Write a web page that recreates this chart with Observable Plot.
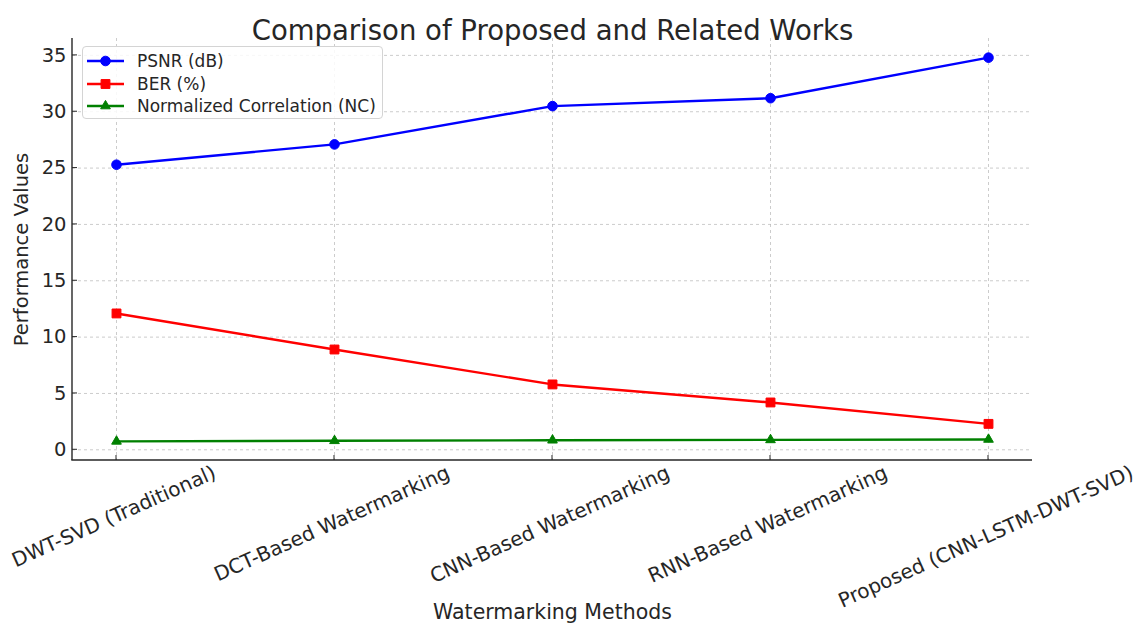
<!DOCTYPE html>
<html><head><meta charset="utf-8">
<script src="https://cdn.jsdelivr.net/npm/d3@7"></script>
<script src="https://cdn.jsdelivr.net/npm/@observablehq/plot@0.6"></script>
<style>
body{margin:0;background:#fff;font-family:"DejaVu Sans",sans-serif;}
#wrap{position:relative;width:1146px;height:633px;}
#legend{position:absolute;left:82px;top:46px;width:301px;height:73px;border:1px solid #d4d4d4;border-radius:4px;background:rgba(255,255,255,0.85);box-sizing:border-box;}
.row{position:absolute;left:0;height:22px;display:flex;align-items:center;font-size:17px;color:#262626;white-space:nowrap;}
</style></head><body><div id="wrap"><div id="legend"></div></div>
<script>
const methods = ["DWT-SVD (Traditional)", "DCT-Based Watermarking", "CNN-Based Watermarking", "RNN-Based Watermarking", "Proposed (CNN-LSTM-DWT-SVD)"];
const psnr = [25.3, 27.1, 30.5, 31.2, 34.8];
const ber = [12.1, 8.9, 5.8, 4.2, 2.3];
const nc = [0.75, 0.80, 0.85, 0.88, 0.92];
const seriesNames = ["PSNR (dB)", "BER (%)", "Normalized Correlation (NC)"];
const seriesColors = ["#0000ff", "#ff0000", "#008000"];
const seriesSymbols = ["circle", "square", "triangle"];
const seriesR = [4.8, 5, 3.6];
const yTicks = [0, 5, 10, 15, 20, 25, 30, 35];
const titleText = "Comparison of Proposed and Related Works";
const xLabel = "Watermarking Methods";
const yLabel = "Performance Values";

const seriesValues = [psnr, ber, nc];
const tables = seriesValues.map(vals => methods.map((m, i) => ({method: m, value: vals[i]})));

const ink = "#262626";
const gridStyle = {stroke: "#b8b8b8", strokeOpacity: 0.8, strokeDasharray: "3,3", strokeWidth: 0.9};
const tickFont = 20, angle = 24;

const spines = (index, scales, values, dims) => {
  const g = d3.create("svg:g");
  const L = dims.marginLeft, R = dims.width - dims.marginRight;
  const T = dims.marginTop, B = dims.height - dims.marginBottom;
  g.append("line").attr("x1", L).attr("x2", L).attr("y1", T).attr("y2", B).attr("stroke", ink).attr("stroke-width", 1.4);
  g.append("line").attr("x1", L - 0.7).attr("x2", R).attr("y1", B).attr("y2", B).attr("stroke", ink).attr("stroke-width", 1.4);
  yTicks.forEach(t => {
    g.append("line").attr("x1", L).attr("x2", L + 5).attr("y1", scales.y(t)).attr("y2", scales.y(t)).attr("stroke", ink).attr("stroke-width", 1);
  });
  methods.forEach(m => {
    g.append("line").attr("x1", scales.x(m)).attr("x2", scales.x(m)).attr("y1", B).attr("y2", B - 5).attr("stroke", ink).attr("stroke-width", 1);
  });
  return g.node();
};

const marks = [
  Plot.gridY(yTicks, gridStyle),
  Plot.gridX(methods, gridStyle),
  Plot.axisY(yTicks, {tickSize: 0, tickPadding: 6, fontSize: 19.5, label: null}),
  spines
];
tables.forEach((t, k) => {
  marks.push(Plot.line(t, {x: "method", y: "value", stroke: seriesColors[k], strokeWidth: 2.4}));
  marks.push(Plot.dot(t, {x: "method", y: "value", fill: seriesColors[k], stroke: seriesColors[k], strokeWidth: 1, symbol: seriesSymbols[k], r: seriesR[k]}));
});
marks.push(Plot.text([titleText], {frameAnchor: "top", dy: -18, fontSize: 27.5, fill: ink, textAnchor: "middle"}));
marks.push(Plot.text([xLabel], {frameAnchor: "bottom", dy: 158, fontSize: 20.5, fill: ink, textAnchor: "middle"}));
marks.push(Plot.text([yLabel], {frameAnchor: "left", dx: -51, rotate: -90, fontSize: 19.5, fill: ink, textAnchor: "middle"}));
marks.push(Plot.text(methods, {x: d => d, frameAnchor: "bottom", rotate: -angle, textAnchor: "middle", lineAnchor: "middle", fontSize: tickFont, fill: ink}));

const chart = Plot.plot({
  width: 1146, height: 633,
  marginLeft: 72, marginRight: 114, marginTop: 38, marginBottom: 173,
  style: {fontFamily: "DejaVu Sans", background: "white", color: ink, overflow: "visible"},
  x: {type: "point", domain: methods, padding: 0.2, axis: null},
  y: {domain: [-0.95, 36.5], axis: null},
  marks
});
const wrap = document.getElementById("wrap");
wrap.insertBefore(chart, wrap.firstChild);

// place rotated x tick labels so each label's rotated box hangs centred below its tick
const rad = angle * Math.PI / 180;
const xScale = chart.scale("x");
const bottomY = 633 - 173;
chart.querySelectorAll("text").forEach(t => {
  const label = t.textContent;
  if (!methods.includes(label)) return;
  const px = xScale.apply(label);
  const Lw = t.getComputedTextLength();
  const cy = bottomY + 8 + (Lw * Math.sin(rad) + tickFont * Math.cos(rad)) / 2;
  t.setAttribute("transform", `translate(${px},${cy}) rotate(${-angle})`);
  t.removeAttribute("x");
  t.removeAttribute("y");
});

// legend
const legend = document.getElementById("legend");
seriesNames.forEach((name, k) => {
  const row = document.createElement("div");
  row.className = "row";
  row.style.top = (3 + 22.6 * k) + "px";
  const svg = d3.create("svg").attr("width", 54).attr("height", 22);
  svg.append("line").attr("x1", 4).attr("x2", 41).attr("y1", 11).attr("y2", 11).attr("stroke", seriesColors[k]).attr("stroke-width", 2.4);
  const sym = d3.symbol().type(k === 0 ? d3.symbolCircle : k === 1 ? d3.symbolSquare : d3.symbolTriangle).size(Math.PI * seriesR[k] * seriesR[k]);
  svg.append("path").attr("d", sym()).attr("transform", "translate(22.5,11)").attr("fill", seriesColors[k]).attr("stroke", seriesColors[k]);
  row.appendChild(svg.node());
  const span = document.createElement("span");
  span.textContent = name;
  row.appendChild(span);
  legend.appendChild(row);
});
</script>
</body></html>
